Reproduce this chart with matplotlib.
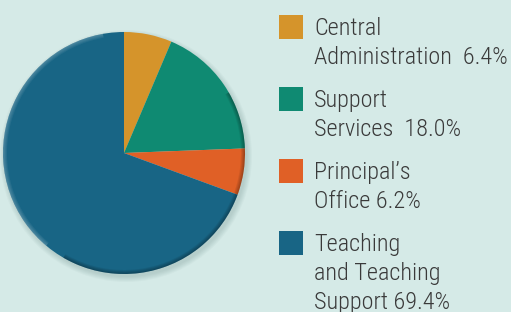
import matplotlib.pyplot as plt
from matplotlib.patches import Circle, Wedge, Rectangle

# data
labels = [["Central", "Administration  6.4%"],
          ["Support", "Services  18.0%"],
          ["Principal\u2019s", "Office 6.2%"],
          ["Teaching", "and Teaching", "Support 69.4%"]]
shares = [6.4, 18.0, 6.2, 69.4]
colors = ["#d5942b", "#0f8a72", "#e06026", "#186585"]

bg = "#d5eae7"
W, H = 511, 312

fig = plt.figure(figsize=(W / 100, H / 100), dpi=100, facecolor=bg)
ax = fig.add_axes([0, 0, 1, 1])
ax.set_facecolor(bg)

cx, cy, r = 124, H - 153, 121

# soft drop shadow under the pie
for i in range(6):
    ax.add_patch(Circle((cx + 2, cy - 3), r + 5 - i, color="#6c8a86",
                        alpha=0.05, lw=0, zorder=0))

wedges, _ = ax.pie(shares, colors=colors, startangle=90, counterclock=False,
                   center=(cx, cy), radius=r,
                   wedgeprops=dict(linewidth=0))

# bevel: light rim top-left, darker rim bottom-right (soft, layered)
for k in range(4):
    ax.add_patch(Wedge((cx, cy), r, 100, 230, width=1 + k, color="white",
                       alpha=0.06, lw=0, zorder=3))
    ax.add_patch(Wedge((cx, cy), r, 240, 390, width=1 + k, color="black",
                       alpha=0.08, lw=0, zorder=3))

# legend
font = ["Roboto Condensed", "Liberation Sans Narrow", "DejaVu Sans"]
for i, (lab, col) in enumerate(zip(labels, colors)):
    top = 15 + i * 72
    ax.add_patch(Rectangle((279, H - top - 24), 24, 24, color=col, lw=0))
    for j, line in enumerate(lab):
        ax.text(314, H - (35 + i * 72 + j * 29), line, fontsize=17.5,
                family=font, weight="light", color="#3a3a3a",
                va="baseline", ha="left")

ax.set_xlim(0, W)
ax.set_ylim(0, H)
ax.set_aspect("equal")
ax.axis("off")

fig.savefig("out.png", dpi=100, facecolor=bg)
